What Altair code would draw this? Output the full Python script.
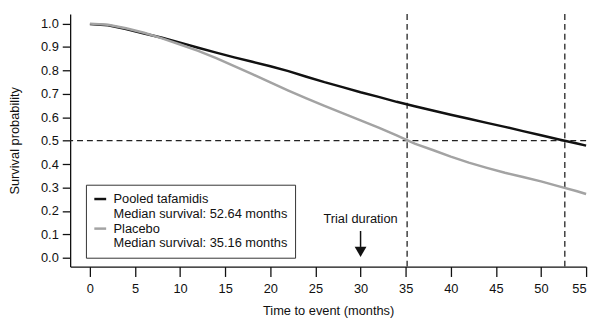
import altair as alt
import pandas as pd

# ---- data ----
months = [0, 2, 4, 6, 8, 10, 12, 14, 16, 18, 20, 22, 24, 26, 28, 30, 32, 34, 36,
          38, 40, 42, 44, 46, 48, 50, 52, 54, 55]
tafamidis = [0.998, 0.993, 0.977, 0.958, 0.940, 0.919, 0.897, 0.876, 0.856, 0.837,
             0.818, 0.797, 0.773, 0.750, 0.729, 0.707, 0.687, 0.666, 0.647, 0.629,
             0.611, 0.594, 0.576, 0.559, 0.541, 0.523, 0.505, 0.488, 0.479]
placebo = [1.000, 0.995, 0.980, 0.961, 0.937, 0.911, 0.884, 0.853, 0.819, 0.784,
           0.749, 0.714, 0.681, 0.649, 0.618, 0.587, 0.556, 0.523, 0.487, 0.460,
           0.432, 0.406, 0.384, 0.363, 0.345, 0.326, 0.305, 0.284, 0.272]
series_names = ["Pooled tafamidis", "Placebo"]
median_survival = [52.64, 35.16]
median_level = [0.5]
x_ticks = [0, 5, 10, 15, 20, 25, 30, 35, 40, 45, 50, 55]
y_ticks = [0.0, 0.1, 0.2, 0.3, 0.4, 0.5, 0.6, 0.7, 0.8, 0.9, 1.0]
trial_duration = [30]
annotation_text = ["Trial duration"]

FONT = "Liberation Sans"
FS = 13

rows = []
for m, t, p in zip(months, tafamidis, placebo):
    rows.append({"month": m, "surv": t, "group": series_names[0]})
    rows.append({"month": m, "surv": p, "group": series_names[1]})
df = pd.DataFrame(rows)

median_labels = [f"Median survival: {v:.2f} months" for v in median_survival]
legend_domain = [series_names[0], median_labels[0], series_names[1], median_labels[1]]
legend_range = ["#111111", "rgba(0,0,0,0)", "#a3a3a3", "rgba(0,0,0,0)"]

x_scale = alt.Scale(domain=[-2.19, 55], nice=False, zero=False)
y_scale = alt.Scale(domain=[-0.038, 1.041], nice=False, zero=False)

X = alt.X("month:Q", scale=x_scale,
          axis=alt.Axis(values=x_ticks, title="Time to event (months)", tickSize=10,
                        labelPadding=6, titlePadding=10, format="d"))


def Yf(field):
    return alt.Y(f"{field}:Q", scale=y_scale,
                 axis=alt.Axis(values=y_ticks, format=".1f", title="Survival probability",
                               tickSize=8, labelPadding=4, titlePadding=19))


lines = alt.Chart(df).mark_line(strokeWidth=2.5).encode(
    x=X, y=Yf("surv"),
    color=alt.Color("group:N",
                    scale=alt.Scale(domain=legend_domain, range=legend_range),
                    legend=alt.Legend(orient="none", legendX=16, legendY=173, title=None,
                                      strokeColor="#333333", fillColor="white", padding=7,
                                      rowPadding=0, labelOffset=6, symbolType="stroke",
                                      symbolSize=144, symbolStrokeWidth=2.5,
                                      labelFontSize=FS, labelFont=FONT, labelColor="#111111",
                                      labelLimit=400)),
    order=alt.Order("month:Q"),
)

vrules = alt.Chart(pd.DataFrame({"month": median_survival})).mark_rule(
    strokeDash=[6, 4], color="#222222", strokeWidth=1.3
).encode(x=X)

hrule = alt.Chart(pd.DataFrame({"surv": median_level})).mark_rule(
    strokeDash=[6, 4], color="#222222", strokeWidth=1.3
).encode(y=Yf("surv"))

ann = pd.DataFrame({"month": trial_duration, "text": annotation_text})
ann["surv"] = 0.165
ann["arrow_top"] = 0.114
ann["arrow_bottom"] = 0.046
ann["head"] = 0.0253

label = alt.Chart(ann).mark_text(fontSize=FS, font=FONT, color="#111111",
                                 baseline="middle", align="center").encode(
    x=X, y=Yf("surv"), text="text:N")
shaft = alt.Chart(ann).mark_rule(color="#111111", strokeWidth=1.5).encode(
    x=X, y=Yf("arrow_top"), y2="arrow_bottom:Q")
head = alt.Chart(ann).mark_point(shape="triangle-down", size=144, filled=True,
                                 color="#111111", opacity=1).encode(
    x=X, y=Yf("head"))

chart = alt.layer(hrule, vrules, lines, label, shaft, head).properties(
    width=523, height=256,
    padding={"left": 63, "top": 4, "right": 8, "bottom": 52},
    autosize=alt.AutoSizeParams(type="none"),
).configure_view(stroke=None).configure_axis(
    grid=False, domainColor="#111111", tickColor="#111111", labelColor="#111111",
    titleColor="#111111", labelFont=FONT, titleFont=FONT, labelFontSize=FS,
    titleFontSize=FS, titleFontWeight="normal", domainWidth=1.3, tickWidth=1.3,
)

chart.save("out.html", embed_options={"renderer": "svg", "actions": False})
